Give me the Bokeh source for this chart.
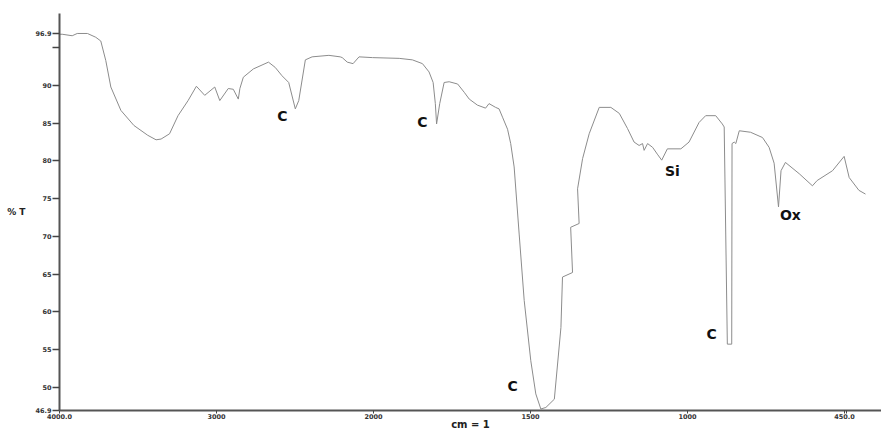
import numpy as np
from bokeh.plotting import figure
from bokeh.models import ColumnDataSource, Range1d, FixedTicker, LabelSet
from bokeh.core.properties import value
from bokeh.embed import file_html
from bokeh.resources import INLINE

# ---- data (wavenumber in cm-1, %T) ----
wavenumber = [4000, 3983, 3919, 3887, 3822, 3769, 3737, 3705, 3673, 3609, 3526, 3438,
              3385, 3353, 3299, 3245, 3181, 3128, 3075, 3011, 2979, 2925, 2893, 2861,
              2851, 2829, 2765, 2669, 2626, 2583, 2540, 2498, 2476, 2434, 2391, 2284,
              2212, 2199, 2167, 2130, 2092, 2006, 1918, 1876, 1844, 1823, 1810, 1803,
              1799, 1789, 1775, 1759, 1732, 1711, 1695, 1669, 1643, 1632, 1611, 1600,
              1589, 1573, 1563, 1552, 1536, 1520, 1499, 1483, 1467, 1451, 1424, 1403,
              1398, 1366, 1372, 1345, 1350, 1334, 1313, 1281, 1244, 1217, 1191, 1170,
              1154, 1143, 1138, 1127, 1111, 1096, 1082, 1064, 1021, 995, 963, 942,
              910, 889, 883, 873, 859, 858, 851, 846, 835, 799, 761, 740,
              724, 710, 702, 688, 644, 602, 587, 538, 501, 485, 454, 433]
transmittance = [96.8, 96.8, 96.6, 96.9, 96.9, 96.4, 95.9, 93.3, 89.8, 86.7, 84.7, 83.4,
                 82.8, 82.9, 83.6, 86.0, 88.0, 89.9, 88.7, 89.8, 88.0, 89.6, 89.5, 88.2,
                 89.6, 91.1, 92.2, 93.1, 92.4, 91.3, 90.4, 86.9, 88.0, 93.4, 93.8, 94.0,
                 93.8, 93.7, 93.1, 92.9, 93.8, 93.7, 93.6, 93.4, 92.9, 91.8, 90.4, 87.6,
                 84.9, 87.6, 90.4, 90.5, 90.2, 89.1, 88.2, 87.4, 87.0, 87.6, 87.1, 86.9,
                 85.8, 84.2, 82.3, 79.2, 70.3, 61.5, 53.5, 49.1, 47.1, 47.3, 48.4, 57.9,
                 64.6, 65.2, 71.2, 71.7, 76.3, 80.3, 83.6, 87.1, 87.1, 86.3, 84.3, 82.5,
                 82.05, 82.3, 81.4, 82.3, 81.8, 80.9, 80.1, 81.6, 81.6, 82.5, 85.1, 86.0,
                 86.0, 84.9, 84.5, 55.7, 55.7, 82.3, 82.5, 82.3, 84.0, 83.8, 83.1, 81.8,
                 79.7, 73.9, 78.7, 79.8, 78.3, 76.7, 77.4, 78.7, 80.6, 77.8, 76.1, 75.6]

# band annotations
band_labels = ["C", "C", "C", "Si", "C", "Ox"]
band_wn = [2580, 1844, 1557, 1048, 923, 672]
band_T = [86.0, 85.1, 50.2, 78.7, 57.1, 72.8]

# axis ticks
x_tick_wn = [4000, 3000, 2000, 1500, 1000, 500]
x_tick_labels = ["4000.0", "3000", "2000", "1500", "1000", "450.0"]
y_ticks = [46.9, 50, 55, 60, 65, 70, 75, 80, 85, 90, 96.9]
y_tick_labels = ["46.9", "50", "55", "60", "65", "70", "75", "80", "85", "90", "96.9"]


def expand(wn):
    """Spectrometer abscissa: scale doubles below 2000 cm-1."""
    wn = np.asarray(wn, dtype=float)
    return np.where(wn >= 2000, wn, 2 * wn - 2000)


src = ColumnDataSource(dict(x=expand(wavenumber), y=transmittance))
lab_src = ColumnDataSource(dict(x=expand(band_wn), y=band_T, text=band_labels))

p = figure(width=881, height=434, output_backend="svg", toolbar_location=None,
           x_range=Range1d(4000, -1236), y_range=Range1d(46.9, 99.55),
           min_border_left=59, min_border_right=0, min_border_top=13,
           min_border_bottom=24)
p.outline_line_color = None
p.grid.visible = False
p.background_fill_color = "white"

p.line("x", "y", source=src, line_color="#8c8c8c", line_width=1)

labels = LabelSet(x="x", y="y", text="text", source=lab_src,
                  text_font=value("DejaVu Sans"), text_font_style="bold",
                  text_font_size="14px", text_color="#111111",
                  text_align="center", text_baseline="middle")
p.add_layout(labels)

# x axis
xt = [float(v) for v in expand(x_tick_wn)]
p.xaxis.ticker = FixedTicker(ticks=xt, minor_ticks=[float(expand([494])[0])])
p.xaxis.major_label_overrides = {t: l for t, l in zip(xt, x_tick_labels)}
p.xaxis.axis_label = "cm = 1"
p.xaxis.axis_line_color = "#555555"
p.xaxis.axis_line_width = 2
p.xaxis.major_tick_out = 3
p.xaxis.major_tick_in = 0
p.xaxis.minor_tick_out = 3
p.xaxis.minor_tick_in = 0
p.xaxis.major_tick_line_color = "#444444"
p.xaxis.minor_tick_line_color = "#444444"
p.xaxis.major_label_standoff = 0
p.xaxis.axis_label_standoff = -3
p.xaxis.major_label_text_font_size = "6.5px"
p.xaxis.major_label_text_font = "DejaVu Sans"
p.xaxis.major_label_text_font_style = "bold"
p.xaxis.major_label_text_color = "#333333"
p.xaxis.axis_label_text_font_size = "10px"
p.xaxis.axis_label_text_font = "DejaVu Sans"
p.xaxis.axis_label_text_font_style = "bold"
p.xaxis.axis_label_text_color = "#222222"

# y axis
p.yaxis.ticker = FixedTicker(ticks=y_ticks, minor_ticks=[95])
p.yaxis.major_label_overrides = {t: l for t, l in zip(y_ticks, y_tick_labels)}
p.yaxis.axis_label = "% T"
try:
    p.yaxis.axis_label_orientation = "horizontal"
except Exception:
    pass
p.yaxis.axis_line_color = "#555555"
p.yaxis.axis_line_width = 2
p.yaxis.major_tick_out = 7
p.yaxis.major_tick_in = 0
p.yaxis.minor_tick_out = 7
p.yaxis.minor_tick_in = 0
p.yaxis.major_tick_line_color = "#444444"
p.yaxis.minor_tick_line_color = "#444444"
p.yaxis.major_tick_line_width = 1.5
p.yaxis.minor_tick_line_width = 1.5
p.yaxis.major_label_standoff = 1
p.yaxis.axis_label_standoff = 7
p.yaxis.major_label_text_font_size = "6.5px"
p.yaxis.major_label_text_font = "DejaVu Sans"
p.yaxis.major_label_text_font_style = "bold"
p.yaxis.major_label_text_color = "#333333"
p.yaxis.axis_label_text_font_size = "9px"
p.yaxis.axis_label_text_font = "DejaVu Sans"
p.yaxis.axis_label_text_font_style = "bold"
p.yaxis.axis_label_text_color = "#222222"

open("out.html", "w").write(file_html(p, INLINE))
